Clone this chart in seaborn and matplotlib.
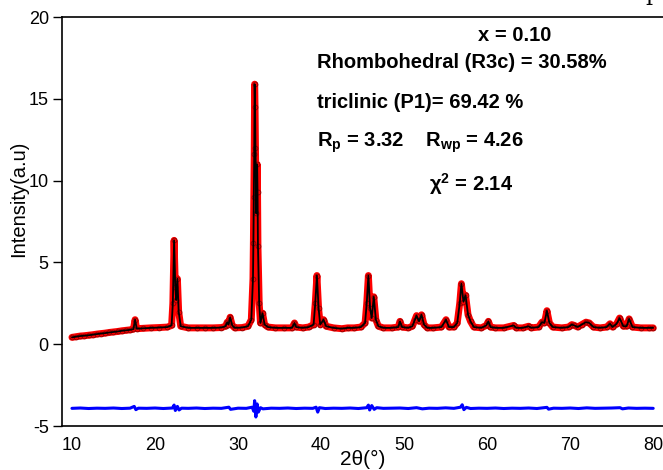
import numpy as np
import pandas as pd
import matplotlib
matplotlib.use('Agg')
import matplotlib.pyplot as plt
import seaborn as sns

two_theta = [10.0, 10.5, 11.0, 11.5, 12.0, 12.5, 13.0, 13.5, 14.0, 14.5, 15.0, 15.5, 16.0, 16.5,
             17.0, 17.4, 17.6, 17.8, 18.5, 19.5, 20.5, 21.5, 22.0, 22.15, 22.3, 22.45, 22.55,
             22.7, 22.85, 23.1, 24.0, 25.0, 26.0, 27.0, 28.0, 28.5, 28.7, 28.85, 29.05, 29.3,
             29.6, 30.5, 31.2, 31.6, 31.8, 31.85, 31.9, 31.95, 32.0, 32.05, 32.1, 32.2, 32.3,
             32.35, 32.4, 32.55, 32.7, 32.95, 33.2, 33.6, 34.5, 35.5, 36.5, 36.8, 37.0, 37.8,
             38.5, 39.1, 39.3, 39.5, 39.7, 39.9, 40.3, 40.6, 41.5, 42.5, 43.2, 44.0, 44.8, 45.3,
             45.5, 45.7, 45.9, 46.1, 46.35, 46.6, 46.9, 47.5, 48.5, 49.3, 49.5, 49.75, 50.5,
             51.0, 51.3, 51.5, 51.8, 52.1, 52.4, 52.8, 53.5, 54.5, 55.05, 55.4, 56.0, 56.4,
             56.7, 56.9, 57.15, 57.4, 57.7, 58.0, 58.4, 59.3, 59.9, 60.15, 60.4, 61.0, 62.0,
             63.2, 63.5, 64.3, 65.0, 65.3, 66.2, 66.6, 66.9, 67.2, 67.5, 67.9, 69.0, 69.8,
             70.2, 70.5, 70.9, 71.4, 71.9, 72.3, 72.8, 73.6, 74.4, 74.8, 75.1, 75.6, 75.95,
             76.4, 76.8, 77.1, 77.5, 78.5, 79.5, 80.0]
intensity = [0.42, 0.46, 0.50, 0.52, 0.55, 0.58, 0.62, 0.65, 0.68, 0.72, 0.75, 0.78, 0.82, 0.85,
             0.88, 0.92, 1.50, 0.95, 0.97, 1.00, 1.02, 1.05, 1.15, 2.50, 6.35, 3.50, 2.70,
             4.00, 2.00, 1.10, 1.00, 1.00, 1.00, 1.00, 1.02, 1.10, 1.35, 1.20, 1.65, 1.15,
             1.00, 1.02, 1.10, 1.50, 4.00, 6.20, 9.00, 11.60, 15.90, 14.50, 12.00, 8.00, 11.00,
             9.30, 6.00, 2.50, 1.30, 1.90, 1.20, 1.05, 1.00, 1.00, 1.00, 1.30, 1.05, 1.00,
             1.05, 1.20, 2.50, 4.20, 2.20, 1.20, 1.50, 1.10, 1.00, 0.95, 1.00, 1.00, 1.05, 1.30,
             2.50, 4.20, 2.20, 1.60, 2.90, 1.50, 1.10, 1.00, 1.00, 1.05, 1.40, 1.05, 1.00,
             1.10, 1.50, 1.75, 1.40, 1.80, 1.20, 1.00, 1.00, 1.05, 1.50, 1.05, 1.05, 1.30,
             2.50, 3.70, 2.60, 3.00, 1.80, 1.40, 1.05, 1.00, 1.15, 1.40, 1.05, 1.00, 1.00,
             1.15, 1.00, 1.00, 1.10, 1.00, 1.05, 1.35, 1.30, 2.05, 1.30, 1.05, 1.00, 1.05,
             1.20, 1.15, 1.05, 1.20, 1.35, 1.30, 1.05, 1.00, 1.05, 1.25, 1.05, 1.25, 1.60,
             1.10, 1.10, 1.55, 1.05, 1.00, 1.00, 1.00]

# difference curve (obs - calc, offset)
diff_theta = [10.0, 11.0, 12.0, 13.0, 14.0, 15.0, 16.0, 17.0, 17.5, 17.7, 18.0, 19.0, 20.0, 21.0,
              22.1, 22.3, 22.45, 22.7, 22.9, 23.2, 24.0, 25.0, 26.0, 27.0, 28.0, 28.9, 29.1,
              30.0, 31.0, 31.7, 31.9, 32.0, 32.15, 32.3, 32.45, 32.7, 33.0, 34.0, 35.0, 36.0,
              37.0, 38.0, 39.0, 39.4, 39.6, 39.8, 40.5, 41.5, 42.5, 43.5, 44.5, 45.5, 45.7,
              45.85, 46.1, 46.4, 46.7, 47.5, 48.5, 49.5, 50.5, 51.5, 52.2, 53.0, 54.0, 55.0,
              56.0, 56.8, 57.0, 57.2, 57.5, 58.0, 59.0, 60.0, 61.0, 62.0, 63.0, 64.0, 65.0,
              66.0, 67.2, 67.4, 68.0, 69.0, 70.0, 71.0, 72.0, 73.0, 74.0, 75.0, 76.0, 76.3,
              77.0, 78.0, 79.0, 80.0]
diff_int = [-3.92, -3.90, -3.93, -3.91, -3.92, -3.90, -3.93, -3.91, -3.80, -4.00, -3.91, -3.92,
            -3.90, -3.93, -3.90, -3.72, -4.05, -3.80, -4.02, -3.91, -3.92, -3.90, -3.93, -3.91,
            -3.92, -3.85, -3.98, -3.91, -3.92, -3.85, -4.10, -3.45, -4.45, -3.65, -4.15, -3.88,
            -3.95, -3.91, -3.92, -3.90, -3.93, -3.91, -3.92, -3.85, -4.15, -3.88, -3.93, -3.91,
            -3.92, -3.90, -3.93, -3.88, -3.72, -4.02, -3.75, -3.98, -3.88, -3.92, -3.91, -3.90,
            -3.93, -3.88, -3.95, -3.91, -3.92, -3.89, -3.92, -3.85, -3.70, -4.00, -3.86, -3.93,
            -3.91, -3.92, -3.90, -3.93, -3.91, -3.92, -3.90, -3.93, -3.86, -3.97, -3.91, -3.92,
            -3.90, -3.93, -3.89, -3.92, -3.91, -3.90, -3.88, -3.95, -3.90, -3.92, -3.91, -3.92]

x_ticks = [10, 20, 30, 40, 50, 60, 70, 80]
y_ticks = [-5, 0, 5, 10, 15, 20]

pattern = pd.DataFrame({'two_theta': two_theta, 'intensity': intensity})
diff = pd.DataFrame({'two_theta': diff_theta, 'diff': diff_int})

sns.set_style('ticks')
plt.rcParams['font.family'] = ['Liberation Sans', 'DejaVu Sans']
plt.rcParams['mathtext.fontset'] = 'custom'
plt.rcParams['mathtext.rm'] = 'Liberation Sans'
plt.rcParams['mathtext.bf'] = 'Liberation Sans:bold'
plt.rcParams['mathtext.default'] = 'bf'
plt.rcParams['axes.unicode_minus'] = False
for k in ['text.color', 'axes.labelcolor', 'xtick.color', 'ytick.color', 'axes.edgecolor']:
    plt.rcParams[k] = 'black'

fig = plt.figure(figsize=(6.63, 4.70), dpi=100)
ax = fig.add_axes([0.0935, 0.0936, 0.908, 0.870])

# observed (red dots), calculated (black line), difference (blue)
sns.lineplot(data=pattern, x='two_theta', y='intensity', color='red', lw=5, sort=False, ax=ax)
sns.scatterplot(data=pattern, x='two_theta', y='intensity', color='red', edgecolor='#8b0000',
                s=12, linewidth=0.6, ax=ax, zorder=3)
sns.lineplot(data=pattern, x='two_theta', y='intensity', color='black', lw=1.3, sort=False,
             ax=ax, zorder=4)
sns.lineplot(data=diff, x='two_theta', y='diff', color='blue', lw=2.2, sort=False, ax=ax)

ax.set_xlim(8.8, 81.3)
ax.set_ylim(-5, 20)
ax.set_xticks(x_ticks)
ax.set_yticks(y_ticks)
ax.tick_params(axis='x', length=0, pad=8, labelsize=13)
ax.tick_params(axis='y', direction='out', length=6.5, width=1, pad=3, labelsize=13)
ax.spines['right'].set_visible(False)
for s in ['left', 'top', 'bottom']:
    ax.spines[s].set_linewidth(1.2)

ax.set_xlabel('2θ(°)', fontsize=15, labelpad=-3)
ax.set_ylabel('Intensity(a.u)', fontsize=14.5)
ax.yaxis.set_label_coords(-0.056, 0.555)

txt = dict(fontsize=14.5, fontweight='bold', va='center', ha='left')
ax.text(58.9, 18.9, 'x = 0.10', **txt)
ax.text(39.5, 17.2, 'Rhombohedral (R3c) = 30.58%', **txt)
ax.text(39.5, 14.8, 'triclinic (P1)= 69.42 %', **txt)
ax.text(39.5, 12.3, r'R$_{p}$ = 3.32    R$_{wp}$ = 4.26', **txt)
ax.text(53.0, 9.8, r'$\chi^{2}$ = 2.14', **txt)

fig.text(0.984, 1.012, 'p', family='serif', fontsize=16, va='center', ha='center')

fig.savefig('out.png', dpi=100)
